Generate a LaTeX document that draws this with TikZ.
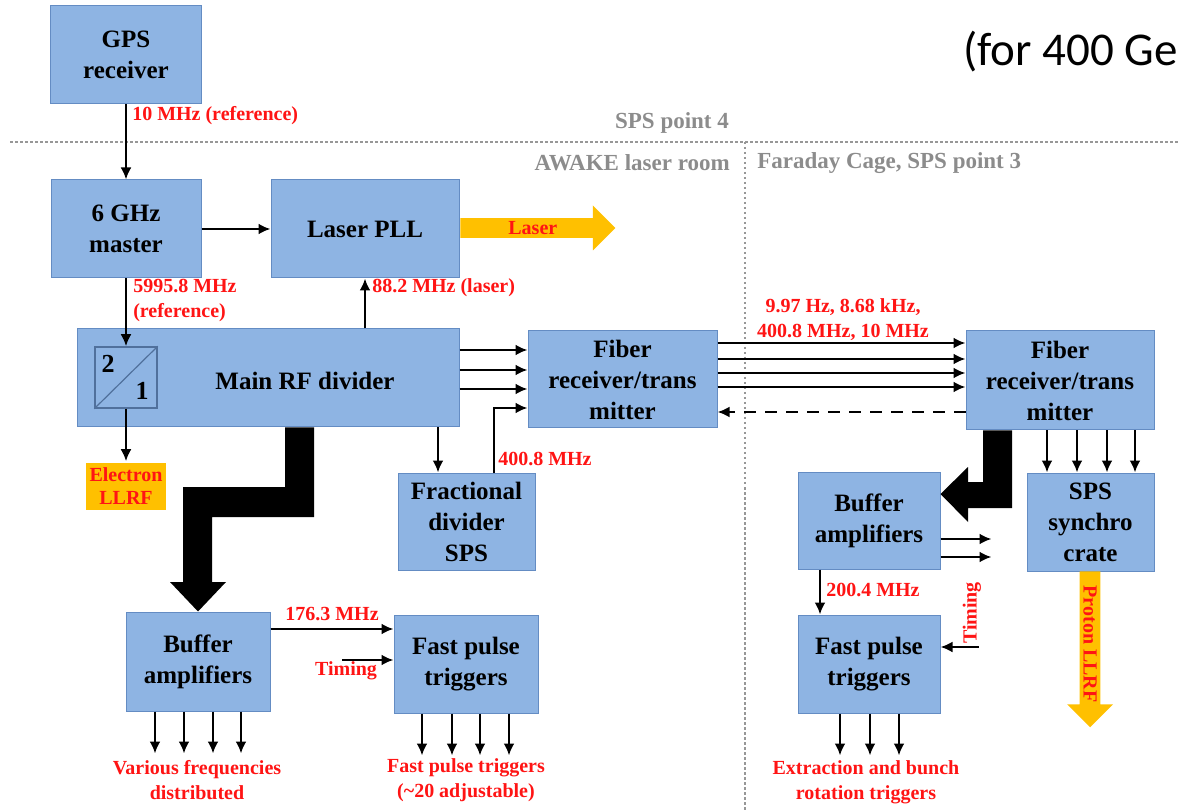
\documentclass[tikz,border=0pt]{standalone}
\usepackage{fontspec}
\setmainfont{Liberation Serif}
\newfontfamily\calibrifont{Carlito}
\usetikzlibrary{shapes,arrows.meta,calc}
\definecolor{boxblue}{RGB}{142,180,227}
\definecolor{boxedge}{RGB}{100,140,195}
\definecolor{llrfyellow}{RGB}{255,192,0}
\definecolor{freqred}{RGB}{255,20,20}
\definecolor{zonegray}{RGB}{140,140,140}

\begin{document}
\begin{tikzpicture}[
    x=1pt, y=-1pt,
    line width=2.5pt,
    >={Latex[length=12pt,width=11pt]},
    block/.style={draw=boxedge, line width=1pt, fill=boxblue, align=center, inner sep=2pt, font=\bfseries\fontsize{25}{31}\selectfont},
    freq/.style={text=freqred, inner sep=0pt, font=\bfseries\fontsize{20}{25}\selectfont},
    zone/.style={text=zonegray, inner sep=0pt, font=\bfseries\fontsize{23}{28}\selectfont},
    zoneline/.style={draw=zonegray!90, line width=2.5pt, dash pattern=on 2.5pt off 2.5pt},
    beam/.style={single arrow, fill=llrfyellow, text=freqred, single arrow head extend=11.5pt, minimum width=45pt, inner sep=1pt, font=\bfseries\fontsize{20}{24}\selectfont}
]
\useasboundingbox (0,0) rectangle (1179,810);

% Title
\node[anchor=west, inner sep=0pt, font=\calibrifont\fontsize{47}{56}\selectfont] (title) at (962,52) {(for 400 Ge};

% Zones
\draw[zoneline] (10,142) -- (1179,142);
\draw[zoneline] (745,142) -- (745,810);
\node[zone] (pointfour) at (672,123) {SPS point 4};
\node[zone, anchor=east] (laserroom) at (731,163) {AWAKE laser room};
\node[zone, anchor=west] (faraday) at (756,163) {Faraday Cage, SPS point 3};

% Reference chain
\node[block, minimum width=151pt, minimum height=98pt] (gps) at (126,55) {GPS\\receiver};
\node[block, minimum width=150pt, minimum height=98pt] (master) at (126,229) {6 GHz\\master};
\node[block, minimum width=188pt, minimum height=98pt] (pll) at (365,229) {Laser PLL};
\node[beam, anchor=tail, minimum height=155pt] (laser) at (459,228) {Laser};

% Main RF divider with the 2/1 divider inside
\node[block, minimum width=382pt, minimum height=98pt] (main) at (268,378) {};
\node[inner sep=0pt, font=\bfseries\fontsize{25}{31}\selectfont] (maintext) at (305,381) {Main RF divider};
\node[draw=boxedge!80!black, line width=1.5pt, minimum width=62pt, minimum height=61pt] (div) at (126,377.5) {};
\draw[draw=boxedge!80!black, line width=1.2pt] (div.south west) -- (div.north east);
\node[inner sep=0pt, font=\bfseries\fontsize{26}{30}\selectfont] (two) at (108,364) {2};
\node[inner sep=0pt, font=\bfseries\fontsize{26}{30}\selectfont] (one) at (142,391) {1};
\node[fill=llrfyellow, text=freqred, align=center, inner sep=0pt, minimum width=80pt, minimum height=47pt, font=\bfseries\fontsize{20}{23}\selectfont] (ellrf) at (126,486) {Electron\\LLRF};

% Fiber link
\node[block, minimum width=189pt, minimum height=97pt] (fibA) at (622.5,379.5) {Fiber\\receiver/trans\\mitter};
\node[block, minimum width=188pt, minimum height=99pt] (fibB) at (1060,380.5) {Fiber\\receiver/trans\\mitter};
\node[block, minimum width=137pt, minimum height=97pt] (frac) at (466.5,521.5) {Fractional\\divider\\SPS};

% Laser room distribution
\node[block, minimum width=144pt, minimum height=99pt] (bufA) at (198,661.5) {Buffer\\amplifiers};
\node[block, minimum width=144pt, minimum height=98pt] (fastA) at (466,664) {Fast pulse\\triggers};

% Faraday cage distribution
\node[block, minimum width=142pt, minimum height=97pt] (bufB) at (869,520.5) {Buffer\\amplifiers};
\node[block, minimum width=127pt, minimum height=98pt] (synchro) at (1090.5,522) {SPS\\synchro\\crate};
\node[block, minimum width=142pt, minimum height=98pt] (fastB) at (869,664) {Fast pulse\\triggers};
\node[beam, anchor=tail, rotate=-90, minimum height=156pt, minimum width=46pt, single arrow head extend=11pt] (proton) at (1090,570) {Proton LLRF};

% Frequency labels
\node[freq, anchor=west] (ften) at (131,116) {10 MHz (reference)};
\node[freq, anchor=west, align=left] (fmaster) at (132,300.5) {5995.8 MHz\\(reference)};
\node[freq, anchor=west] (flaser) at (371,288) {88.2 MHz (laser)};
\node[freq, align=center] (ffiber) at (843,319.5) {9.97 Hz, 8.68 kHz,\\400.8 MHz, 10 MHz};
\node[freq, anchor=west] (fsps) at (497,459) {400.8 MHz};
\node[freq] (fbuf) at (332,614) {176.3 MHz};
\node[freq] (timeA) at (346,671) {Timing};
\node[freq, anchor=west] (fcage) at (825,590) {200.4 MHz};
\node[freq, rotate=90] (timeB) at (972,613) {Timing};
\node[freq, align=center] (outA) at (197,780.5) {Various frequencies\\distributed};
\node[freq, align=center] (outB) at (466,780.5) {Fast pulse triggers\\(\textasciitilde20 adjustable)};
\node[freq, align=center] (outC) at (866,782) {Extraction and bunch\\rotation triggers};

% Connections
\draw[->] (gps) -- (master);
\draw[->] (master) -- (pll);
\draw[->] (master) -- (div);
\draw[->] (div) -- (ellrf);
\draw[->] (main.north -| pll.south) -- (pll.south);
\foreach \y in {350,370,389}
    \draw[->] (main.east |- 0,\y) -- (fibA.west |- 0,\y);
\draw[->] (main.south -| 438,0) -- (frac.north -| 438,0);
\draw[->] (frac.north -| 494,0) |- (fibA.west |- 0,408);

\foreach \y in {343,359,373,387}
    \draw[->] (fibA.east |- 0,\y) -- (fibB.west |- 0,\y);
\draw[->, dash pattern=on 12pt off 9pt] (fibB.west |- 0,412) -- (fibA.east |- 0,412);
\foreach \x in {1047,1077,1107,1135}
    \draw[->] (fibB.south -| \x,0) -- (synchro.north -| \x,0);

\draw[->] (bufA.east |- 0,629) -- (fastA.west |- 0,629);
\draw[<-] (fastA.west |- 0,660) -- ++(-52,0);
\foreach \x in {155,184,213,241}
    \draw[->] (bufA.south -| \x,0) -- ++(0,42);
\foreach \x in {422,452,480,509}
    \draw[->] (fastA.south -| \x,0) -- ++(0,42);

\foreach \y in {539,557}
    \draw[->] (bufB.east |- 0,\y) -- ++(51,0);
\draw[->] (bufB.south -| 820,0) -- (fastB.north -| 820,0);
\draw[<-] (fastB.east |- 0,647) -- ++(38,0);
\foreach \x in {840,870,899}
    \draw[->] (fastB.south -| \x,0) -- ++(0,42);

% Wide buses
\fill (main.south -| 285,0) -- (main.south -| 314,0) -- (314,517) -- (212,517) -- (212,582) -- (226,582)
    -- (bufA.north -| 198,0) -- (170,582) -- (183,582) -- (183,487) -- (285,487) -- cycle;
\fill (fibB.south -| 983,0) -- (fibB.south -| 1012,0) -- (1012,508) -- (968,508) -- (968,522)
    -- (bufB.east |- 0,494) -- (968,467) -- (968,482) -- (983,482) -- cycle;

\end{tikzpicture}
\end{document}
